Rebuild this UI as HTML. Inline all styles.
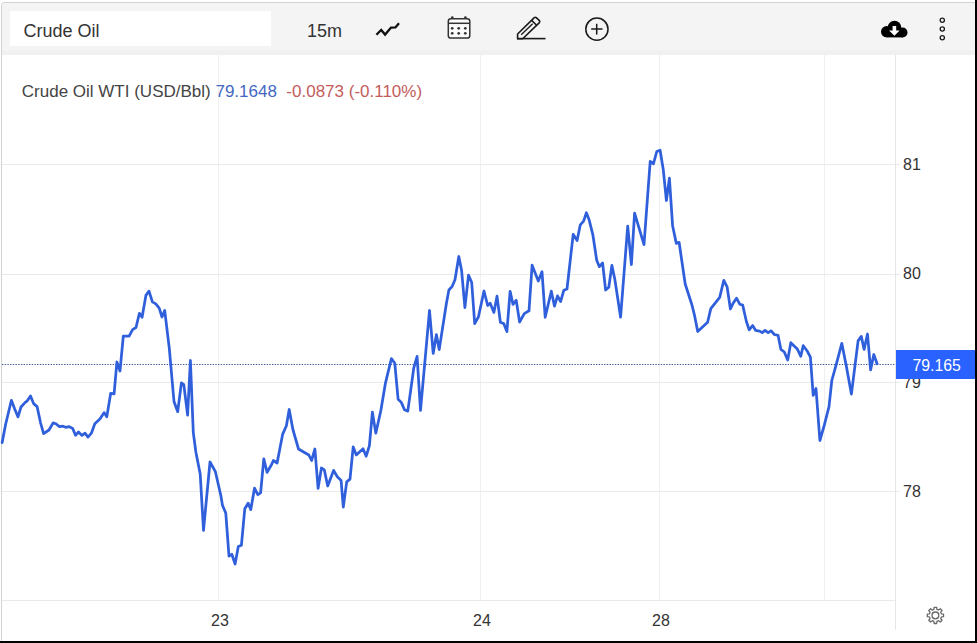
<!DOCTYPE html>
<html><head><meta charset="utf-8">
<style>
*{margin:0;padding:0;box-sizing:border-box;}
html,body{width:977px;height:643px;overflow:hidden;background:#fff;font-family:"Liberation Sans",sans-serif;}
.abs{position:absolute;}
#wrap{position:absolute;left:1px;top:2px;width:974px;height:639px;border-top:1px solid #d2d2d2;border-left:1px solid #d2d2d2;border-top-left-radius:4px;background:#fff;overflow:hidden;}
#tb{position:absolute;left:0;top:0;width:973px;height:52px;background:linear-gradient(#f4f4f4 0,#f4f4f4 47px,#f0f0f0 48px,#f0f0f0 52px);}
#search{position:absolute;left:8px;top:7.5px;width:260.5px;height:35px;background:#fff;}
#search span{position:absolute;left:13.5px;top:11.5px;font-size:18px;color:#333;line-height:18px;}
#tf{position:absolute;left:305px;top:18.5px;font-size:18px;color:#333;line-height:18px;}
#legend{position:absolute;left:21.8px;top:83.2px;font-size:17px;line-height:17px;color:#444;white-space:nowrap;}
.blue{color:#4468c2;}
.red{color:#c45c5c;}
.ax{position:absolute;font-size:16px;line-height:16px;color:#333;}
#plbl{position:absolute;left:896px;top:350px;width:79px;height:29px;background:#2962ff;color:#fff;font-size:15.8px;line-height:16px;padding-top:8px;padding-left:16.5px;}
#rb{position:absolute;left:975px;top:0;width:2px;height:643px;background:#000;}
#bb{position:absolute;left:0;top:641px;width:977px;height:2px;background:#000;}
</style></head><body>
<div id="wrap">
<div id="tb">
 <div id="search"><span>Crude Oil</span></div>
 <div id="tf">15m</div>
</div>
</div>
<svg class="abs" style="left:0;top:0" width="977" height="643" viewBox="0 0 977 643">
 <g stroke="#f0f0f0" stroke-width="1" fill="none" shape-rendering="crispEdges">
  <line x1="218.5" y1="55" x2="218.5" y2="601"/>
  <line x1="480.5" y1="55" x2="480.5" y2="601"/>
  <line x1="659.5" y1="55" x2="659.5" y2="601"/>
  <line x1="824.5" y1="55" x2="824.5" y2="601"/>
 </g>
 <g stroke="#eaeaea" stroke-width="1" fill="none" shape-rendering="crispEdges">
  <line x1="2" y1="164.5" x2="900" y2="164.5"/>
  <line x1="2" y1="274.5" x2="900" y2="274.5"/>
  <line x1="2" y1="382.5" x2="900" y2="382.5"/>
  <line x1="2" y1="491.5" x2="900" y2="491.5"/>
  <line x1="2" y1="600.5" x2="895" y2="600.5"/>
 </g>
 <line x1="895.5" y1="55" x2="895.5" y2="630" stroke="#e6e6e6" stroke-width="1" shape-rendering="crispEdges"/>
 <line x1="2" y1="364.5" x2="895" y2="364.5" stroke="#44599a" stroke-width="1" stroke-dasharray="1.4 1.3"/>
 <polyline points="2.1,442.7 5.6,424.5 11.4,400.3 14.7,409 18,416.9 21,407 25.2,402.4 27.3,400.8 30.5,395.9 33.6,403.6 37.1,406.6 40.6,423 43.6,433.6 49,430 53.1,422.9 55.9,423.8 59.4,426.6 62.9,426.2 65.7,427.3 69.2,426.6 72.7,428.5 75.5,435.3 78.5,432 82,435.4 85,433.2 88,437.1 91.4,433.2 94.8,423.8 99.9,419 104.2,412.6 106.8,416.9 110.7,393.3 114.1,393.8 116.9,362 120,371 123.3,336.1 129.1,336.1 132.6,329.6 136,327.5 139.4,313.3 142.1,317.3 145.9,295.4 149,291.1 152.4,301.9 155.8,303.9 159.2,308.2 162,317 164.7,310.5 169.3,348.4 174,401.5 177.7,411.7 181.4,382.9 183.8,384.7 187.6,415.1 190.4,360.5 193.3,432.6 195.9,452.2 200.2,473.9 203.5,530.4 210,462 215.4,471.7 220.9,495.7 222.4,504.9 225.8,513.3 229,556.1 231.8,554.3 235.1,564 238.3,546.5 241.4,545.3 244.8,508.7 248.1,503.1 250.8,509.6 254.5,488.2 257.8,494.7 260.6,492.8 263.8,458.9 267.1,472.3 270.9,465.8 273.4,460.5 277.1,463 282.7,434.1 286.4,425.7 289.2,409.5 292.9,429.5 298.5,449 303.2,451.8 308.8,455 311.6,460.5 314.9,449 318.1,488.3 321.4,468 324.3,469.8 327.7,486 333.6,470.4 337.3,476.7 341.1,480.4 343.3,507.1 346.7,481.9 350,479.1 353.2,446.9 356.3,454.9 363,448.8 366.2,456.2 369.4,445.6 372.4,412.1 375.8,433.1 380.8,410.8 385.5,382.8 391.4,358.6 394.8,363.3 398.1,399.2 401.3,402.4 404.5,409.8 407.8,411.1 413.8,367.9 417.1,356.4 420.5,410.4 429.5,310.5 433.2,353.4 436.4,334.7 439.2,349.6 446.3,304 448.9,290 452.2,286.3 455,279.8 458.8,256.5 461.6,270.5 464.9,307.7 468.5,275.1 471.7,282.5 474.7,323.6 478.4,317 484,291 487.7,305.5 490.1,303.1 493.9,312.4 497,296.2 500.4,322.3 503.7,323.6 506.9,331.6 510.1,291.3 513,304.4 516.2,300.3 519.6,322 524.3,313.6 529,310.8 532.1,265.2 538.3,281 542,271.7 545.2,317.3 551.3,291.2 554.5,306.1 557.5,295.9 560.6,301.5 563.8,290.3 567,289 573.2,234.3 577.1,240.6 580.3,224.8 583.6,221.1 586.4,212.7 589.2,220.1 592.9,235 596.7,260.2 599.4,266.7 602.6,263 605.6,290 608.8,287.2 611.9,265.4 614.9,279.7 619,306.7 620.6,317.2 627.7,226.2 631.4,264.5 634.6,213.1 644,244.6 650.2,161.4 653.4,163.8 656.8,151.5 660.1,150.2 663.3,169.8 666.4,200.5 669.4,178.2 672.6,225.7 676.3,243.4 679.1,242.3 685.2,284 691.8,304.5 694.6,315.7 697.7,331.5 707.6,322.2 710.8,308.6 719.7,297.4 723.8,280.3 727.1,286.8 730.4,309 732.8,303.8 736.5,298.2 739.9,304.3 742.7,305.1 746.4,321.5 749.2,329.8 752.6,325.5 755.7,330.4 759.5,331.1 762.2,332.6 765,330.4 768.2,332.6 771.2,330.8 774.3,334.5 778.1,335.4 780.9,349.4 784.3,352 787.7,360 790.8,342.7 797.3,348.9 800.7,356.3 803.3,345.7 807,350.7 810.4,357.2 813.2,395.4 816,388.5 819.9,440.5 824.3,425.2 829,406.6 831.8,380.5 836.2,364.7 841.8,343.3 846.4,366.6 851.4,394.1 858.1,340.9 861.3,336.4 864.1,349.4 867.5,334 870.6,369.9 873.8,354.5 877.1,363.8" fill="none" stroke="#2f5fdb" stroke-width="2.75" stroke-linejoin="round" stroke-linecap="round"/>
 <!-- toolbar icons -->
 <polyline points="376.4,34.8 381.2,30 385.1,34.6 391,27.6 395.4,27.4 399,23.2" fill="none" stroke="#111" stroke-width="2.3" stroke-linejoin="miter"/>
 <g fill="none" stroke="#333" stroke-width="1.5">
  <rect x="448.3" y="18.7" width="21.5" height="19.4" rx="2.6" fill="#fcfcfc"/>
  <line x1="448.5" y1="23.3" x2="469.5" y2="23.3"/>
 </g>
 <g fill="#333">
  <circle cx="452.3" cy="17.7" r="1.35"/><circle cx="465.4" cy="17.7" r="1.35"/>
  <circle cx="452.2" cy="28.3" r="1.35"/><circle cx="458.7" cy="28.3" r="1.35"/><circle cx="465.3" cy="28.3" r="1.35"/>
  <circle cx="452.2" cy="33.3" r="1.35"/><circle cx="458.7" cy="33.3" r="1.35"/><circle cx="465.3" cy="33.3" r="1.35"/>
 </g>
 <g fill="none" stroke="#1a1a1a" stroke-width="1.6" stroke-linejoin="round">
  <path d="M517.6,38.8 L517.6,34 L534.3,17.6 Q535.3,16.8 536.3,17.6 L539.4,20.6 Q540.2,21.6 539.4,22.6 L522.7,38.8 Z"/>
  <line x1="531.6" y1="20.4" x2="536.4" y2="25"/>
  <line x1="521.2" y1="34.8" x2="532.6" y2="23.7" stroke-width="1.3"/>
  <line x1="517" y1="38.6" x2="545.5" y2="38.6"/>
 </g>
 <g fill="none" stroke="#1a1a1a" stroke-width="1.5">
  <circle cx="596.9" cy="29.2" r="11.1"/>
  <line x1="591.2" y1="29" x2="602.5" y2="29"/>
  <line x1="596.7" y1="23.8" x2="596.7" y2="34.6"/>
 </g>
 <g fill="#000"><circle cx="894.5" cy="27.5" r="6.8"/><circle cx="886.6" cy="31.7" r="5.6"/><circle cx="902.6" cy="32.5" r="4.9"/><rect x="886.6" y="30" width="16" height="7.4"/></g>
 <path d="M892.6,26 L896.2,26 L896.2,30.5 L899.6,30.5 L894.4,35.8 L889,30.5 L892.6,30.5 Z" fill="#fff"/>
 <g fill="none" stroke="#1a1a1a" stroke-width="1.3">
  <circle cx="942.3" cy="20.2" r="2.1"/><circle cx="942.3" cy="29" r="2.1"/><circle cx="942.3" cy="37.8" r="2.1"/>
 </g>
 <!-- gear -->
 <g transform="translate(935.4,615.4)" fill="none" stroke="#6a6a6a" stroke-width="1.3">
  <circle r="3.4"/>
  <path d="M-1.50,-6.02 L-1.28,-8.10 L1.28,-8.10 L1.50,-6.02 L3.19,-5.31 L4.82,-6.63 L6.63,-4.82 L5.31,-3.19 L6.02,-1.50 L8.10,-1.28 L8.10,1.28 L6.02,1.50 L5.31,3.19 L6.63,4.82 L4.82,6.63 L3.19,5.31 L1.50,6.02 L1.28,8.10 L-1.28,8.10 L-1.50,6.02 L-3.19,5.31 L-4.82,6.63 L-6.63,4.82 L-5.31,3.19 L-6.02,1.50 L-8.10,1.28 L-8.10,-1.28 L-6.02,-1.50 L-5.31,-3.19 L-6.63,-4.82 L-4.82,-6.63 L-3.19,-5.31 Z" stroke-linejoin="round"/>
 </g>
</svg>
<div id="legend">Crude Oil WTI (USD/Bbl) <span class="blue">79.1648</span>&nbsp; <span class="red">-0.0873 (-0.110%)</span></div>
<div class="ax" style="left:903px;top:157px">81</div>
<div class="ax" style="left:903px;top:266px">80</div>
<div class="ax" style="left:903px;top:375px">79</div>
<div class="ax" style="left:903px;top:484px">78</div>
<div class="ax" style="left:211px;top:613px">23</div>
<div class="ax" style="left:473px;top:613px">24</div>
<div class="ax" style="left:652px;top:613px">28</div>
<div id="plbl">79.165</div>
<div id="rb"></div><div id="bb"></div>
</body></html>
